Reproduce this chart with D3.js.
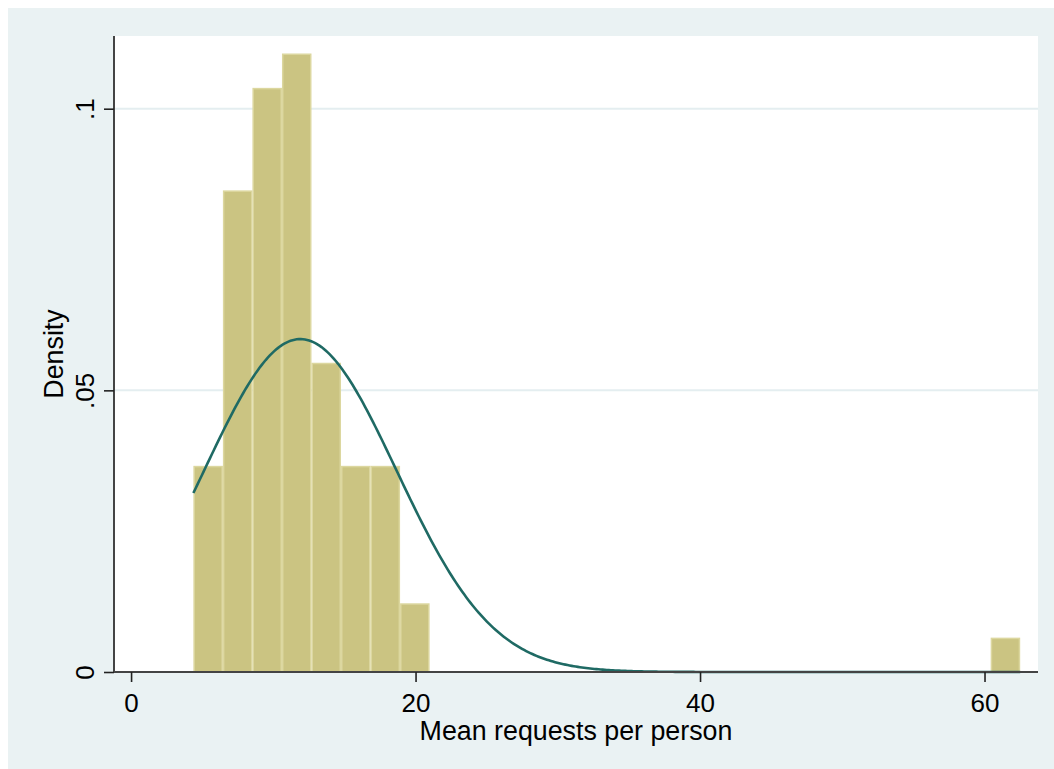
<!DOCTYPE html>
<html>
<head>
<meta charset="utf-8">
<script src="https://cdn.jsdelivr.net/npm/d3@7"></script>
<style>
  html, body { margin: 0; padding: 0; background: #ffffff; }
  svg { display: block; }
  text { font-family: "Liberation Sans", Arial, sans-serif; fill: #000; }
</style>
</head>
<body>
<svg id="chart" width="1054" height="769"></svg>
<script>
// ---- data ----
const binStart = 4.38;          // left edge of first bin
const binWidth = 2.076;         // bin width
const binIndex = [0, 1, 2, 3, 4, 5, 6, 7, 27];
const binDensity = [0.0366, 0.0855, 0.1037, 0.1098, 0.0549, 0.0366, 0.0366, 0.0122, 0.0061];
const normalMean = 11.9;        // overlaid normal density
const normalSD = 6.75;
const xTicks = [0, 20, 40, 60];
const yTicks = [0, 0.05, 0.1];
const yTickLabels = ["0", ".05", ".1"];
const xTitle = "Mean requests per person";
const yTitle = "Density";

// ---- layout ----
const svg = d3.select("#chart");
const W = 1054, H = 769;
const plot = { left: 114, right: 1038, top: 36, bottom: 672 };

svg.append("rect").attr("width", W).attr("height", H).attr("fill", "#ffffff");
svg.append("rect").attr("x", 8).attr("y", 8).attr("width", W - 8).attr("height", H - 8).attr("fill", "#eaf2f3");
svg.append("rect")
  .attr("x", plot.left).attr("y", plot.top)
  .attr("width", plot.right - plot.left).attr("height", plot.bottom - plot.top)
  .attr("fill", "#ffffff");

const x = d3.scaleLinear().domain([-1.2, 63.76]).range([plot.left, plot.right]);
const y = d3.scaleLinear().domain([0, 0.1]).range([plot.bottom, 108.7]);

// grid lines
svg.append("g").selectAll("line").data(yTicks.filter(d => d > 0)).join("line")
  .attr("x1", plot.left).attr("x2", plot.right)
  .attr("y1", d => y(d)).attr("y2", d => y(d))
  .attr("stroke", "#e4eef0").attr("stroke-width", 2);

// bars
const bars = binIndex.map((k, i) => ({ x0: binStart + k * binWidth, x1: binStart + (k + 1) * binWidth, d: binDensity[i] }));
svg.append("g").selectAll("rect").data(bars).join("rect")
  .attr("x", d => x(d.x0) + 0.75)
  .attr("y", d => y(d.d) + 0.75)
  .attr("width", d => x(d.x1) - x(d.x0) - 1.5)
  .attr("height", d => y(0) - y(d.d) - 0.75)
  .attr("fill", "#cbc482")
  .attr("stroke", "#dcd79f")
  .attr("stroke-width", 1.5);

// normal density overlay
const xs = d3.range(0, 401).map(i => binStart + (28 * binWidth) * i / 400);
const pdf = v => Math.exp(-0.5 * Math.pow((v - normalMean) / normalSD, 2)) / (normalSD * Math.sqrt(2 * Math.PI));
svg.append("path")
  .datum(xs)
  .attr("fill", "none")
  .attr("stroke", "#1f6a64")
  .attr("stroke-width", 2.6)
  .attr("d", d3.line().x(v => x(v)).y(v => y(pdf(v))));

// axes
const xAxis = d3.axisBottom(x).tickValues(xTicks).tickSize(10).tickSizeOuter(0).tickFormat(d3.format("d"));
const gx = svg.append("g").attr("transform", `translate(0,${plot.bottom})`).call(xAxis);
gx.select(".domain").attr("d", `M${plot.left},0H${plot.right}`).attr("stroke", "#444").attr("stroke-width", 2);
gx.selectAll(".tick line").attr("stroke", "#222").attr("stroke-width", 1.6);
gx.selectAll(".tick text").attr("font-size", 26).attr("dy", 0).attr("y", 40)
  .attr("font-family", "'Liberation Sans', Arial, sans-serif").attr("fill", "#000");

const yAxis = d3.axisLeft(y).tickValues(yTicks).tickSize(10).tickSizeOuter(0).tickFormat((d, i) => yTickLabels[i]);
const gy = svg.append("g").attr("transform", `translate(${plot.left},0)`).call(yAxis);
gy.select(".domain").attr("d", `M0,${plot.top}V${plot.bottom}`).attr("stroke", "#444").attr("stroke-width", 2);
gy.selectAll(".tick line").attr("stroke", "#222").attr("stroke-width", 1.6);
gy.selectAll(".tick text")
  .attr("font-size", 26).attr("x", 0).attr("dy", 0).attr("y", 0)
  .attr("text-anchor", "middle")
  .attr("font-family", "'Liberation Sans', Arial, sans-serif").attr("fill", "#000")
  .attr("transform", "translate(-20,0) rotate(-90)");

// titles
svg.append("text")
  .attr("x", (plot.left + plot.right) / 2).attr("y", 740)
  .attr("text-anchor", "middle").attr("font-size", 26.8)
  .text(xTitle);
svg.append("text")
  .attr("transform", `translate(63,${(plot.top + plot.bottom) / 2}) rotate(-90)`)
  .attr("text-anchor", "middle").attr("font-size", 26.8)
  .text(yTitle);
</script>
</body>
</html>
